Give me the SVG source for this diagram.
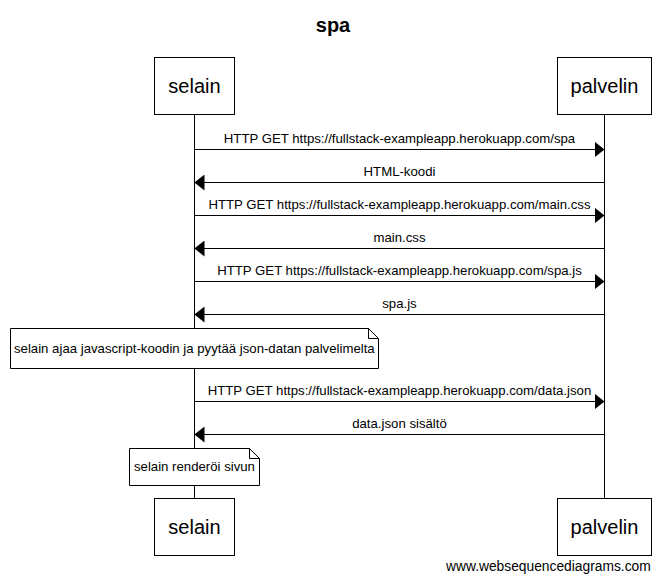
<svg xmlns="http://www.w3.org/2000/svg" width="666" height="580" viewBox="0 0 666 580">
<defs>
<marker id="ah" markerWidth="10" markerHeight="16" refX="10" refY="8" orient="auto" markerUnits="userSpaceOnUse">
<path d="M0,0 L10,8 L0,16 Z" fill="#000"/>
</marker>
</defs>
<style>
text{font-family:"Liberation Sans",Arial,sans-serif;fill:#000}
.box{fill:#fff;stroke:#000;stroke-width:1}
.pt{font-size:20px;text-anchor:middle}
.msg{font-size:13.2px;text-anchor:middle}
.ln{stroke:#000;stroke-width:1;fill:none}
.arr{stroke:#000;stroke-width:1;marker-end:url(#ah)}
.note{fill:#fff;stroke:#000;stroke-width:1}
.nt{font-size:13.2px}
</style>
<rect width="666" height="580" fill="#fff"/>
<text x="333" y="32" style="font-size:20px;font-weight:bold" text-anchor="middle">spa</text>
<g id="lifelines">
<line class="ln" x1="194.5" y1="114" x2="194.5" y2="498"/>
<line class="ln" x1="604.5" y1="114" x2="604.5" y2="498"/>
</g>
<g id="selain">
<rect class="box" x="154.5" y="57.5" width="80" height="57"/>
<text class="pt" x="194.5" y="93">selain</text>
</g>
<g id="palvelin">
<rect class="box" x="557.5" y="57.5" width="94" height="57"/>
<text class="pt" x="604.5" y="93">palvelin</text>
</g>
<g id="selain-bottom">
<rect class="box" x="154.5" y="498.5" width="80" height="57"/>
<text class="pt" x="194.5" y="534">selain</text>
</g>
<g id="palvelin-bottom">
<rect class="box" x="557.5" y="498.5" width="94" height="57"/>
<text class="pt" x="604.5" y="534">palvelin</text>
</g>
<g id="connectors">
<line class="arr" x1="194.5" y1="149.5" x2="604.5" y2="149.5"/>
<text class="msg" x="399.5" y="143">HTTP GET https://fullstack-exampleapp.herokuapp.com/spa</text>
<line class="arr" x1="604.5" y1="182.5" x2="194.5" y2="182.5"/>
<text class="msg" x="399.5" y="176">HTML-koodi</text>
<line class="arr" x1="194.5" y1="215.5" x2="604.5" y2="215.5"/>
<text class="msg" x="399.5" y="209">HTTP GET https://fullstack-exampleapp.herokuapp.com/main.css</text>
<line class="arr" x1="604.5" y1="248.5" x2="194.5" y2="248.5"/>
<text class="msg" x="399.5" y="242">main.css</text>
<line class="arr" x1="194.5" y1="281.5" x2="604.5" y2="281.5"/>
<text class="msg" x="399.5" y="275">HTTP GET https://fullstack-exampleapp.herokuapp.com/spa.js</text>
<line class="arr" x1="604.5" y1="314.5" x2="194.5" y2="314.5"/>
<text class="msg" x="399.5" y="308">spa.js</text>
<line class="arr" x1="194.5" y1="401.5" x2="604.5" y2="401.5"/>
<text class="msg" x="399.5" y="395">HTTP GET https://fullstack-exampleapp.herokuapp.com/data.json</text>
<line class="arr" x1="604.5" y1="434.5" x2="194.5" y2="434.5"/>
<text class="msg" x="399.5" y="428">data.json sisältö</text>
</g>
<g id="note1">
<path class="note" d="M10.5,328.5 H368.5 L378.5,338.5 V368.5 H10.5 Z"/>
<path class="ln" d="M368.5,328.5 V338.5 H378.5"/>
<text class="nt" x="14" y="353">selain ajaa javascript-koodin ja pyytää json-datan palvelimelta</text>
</g>
<g id="note2">
<path class="note" d="M129.5,448.5 H249.5 L259.5,458.5 V485.5 H129.5 Z"/>
<path class="ln" d="M249.5,448.5 V458.5 H259.5"/>
<text class="nt" x="134" y="471">selain renderöi sivun</text>
</g>
<text x="446" y="571" style="font-size:13.8px">www.websequencediagrams.com</text>
</svg>
